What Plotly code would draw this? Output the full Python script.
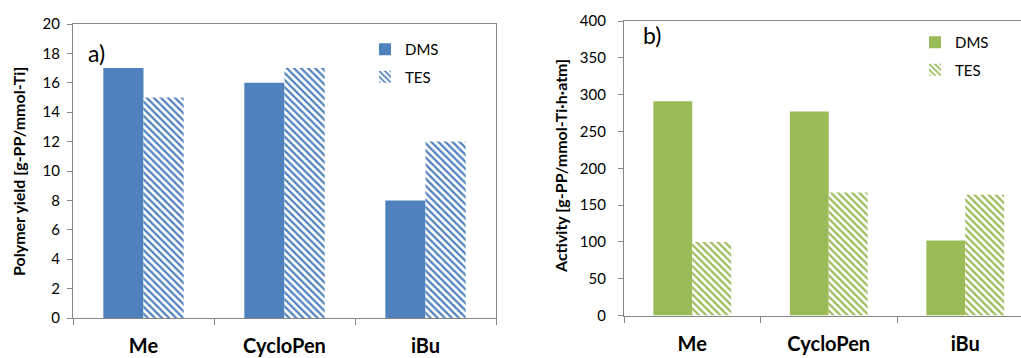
import plotly.graph_objects as go
from plotly.subplots import make_subplots

# Catalyst donors on the x axis
categories = ["Me", "CycloPen", "iBu"]

# a) polymer yield [g-PP/mmol-Ti]
yield_dms = [17, 16, 8]
yield_tes = [15, 17, 12]

# b) activity [g-PP/mmol-Ti·h·atm]
activity_dms = [291, 277, 102]
activity_tes = [100, 167, 164]

series_names = ["DMS", "TES"]
yield_ticks = list(range(0, 21, 2))
activity_ticks = list(range(0, 401, 50))

BLUE = "#4F81BD"
GREEN = "#9BBB59"
AXIS = "#868686"
FONT = "Lato"
W, H = 1021, 358

fig = make_subplots(rows=1, cols=2)


def add_pair(dms, tes, color, col, legend):
    fig.add_trace(go.Bar(
        x=categories, y=dms, name=series_names[0],
        marker=dict(color=color, line=dict(width=0)),
        legend=legend, legendgroup=legend + "a",
    ), row=1, col=col)
    fig.add_trace(go.Bar(
        x=categories, y=tes, name=series_names[1],
        marker=dict(color="white", line=dict(width=0),
                    pattern=dict(shape="\\", fgcolor=color, bgcolor="white",
                                 size=5, solidity=0.45, fillmode="replace")),
        legend=legend, legendgroup=legend + "b",
    ), row=1, col=col)


add_pair(yield_dms, yield_tes, BLUE, 1, "legend")
add_pair(activity_dms, activity_tes, GREEN, 2, "legend2")

tickfont = dict(family=FONT, size=15, color="black")
catfont = dict(family=FONT, size=20, color="black", weight="bold")

common_x = dict(
    type="category", showline=True, linecolor=AXIS, linewidth=1.3,
    ticks="outside", tickson="boundaries", ticklen=6, tickcolor=AXIS,
    tickfont=catfont, ticklabelstandoff=10, showgrid=False, zeroline=False,
    automargin=False,
)
common_y = dict(
    showline=True, linecolor=AXIS, linewidth=1.3, ticks="outside", ticklen=5,
    tickcolor=AXIS, tickfont=tickfont, showgrid=False, zeroline=False,
    automargin=False,
)

fig.update_xaxes(common_x, row=1, col=1)
fig.update_xaxes(common_x, row=1, col=2)
fig.update_yaxes(common_y, row=1, col=1)
fig.update_yaxes(common_y, row=1, col=2)

fig.update_layout(
    xaxis=dict(domain=[73 / W, 496 / W], range=[-0.5, 2.5], mirror=True),
    yaxis=dict(domain=[1 - 318 / H, 1 - 24 / H], range=[0, 20],
               tickvals=yield_ticks, mirror=True, ticklabelstandoff=4),
    xaxis2=dict(domain=[624 / W, 1], range=[-0.5, -0.5 + 397 / 136.5], mirror=True),
    yaxis2=dict(domain=[1 - 315.5 / H, 1 - 21 / H], range=[0, 400],
                tickvals=activity_ticks, mirror=False, ticklabelstandoff=9),
)

fig.update_layout(
    width=W, height=H, margin=dict(l=0, r=0, t=0, b=0, autoexpand=False),
    paper_bgcolor="white", plot_bgcolor="white",
    bargap=0.43, bargroupgap=0, barmode="group",
    font=dict(family=FONT, color="black"),
    legend=dict(x=365 / W, y=1 - 33 / H, xanchor="left", yanchor="top",
                font=dict(family=FONT, size=15), bgcolor="rgba(0,0,0,0)",
                tracegroupgap=5, traceorder="grouped"),
    legend2=dict(x=915 / W, y=1 - 26 / H, xanchor="left", yanchor="top",
                 font=dict(family=FONT, size=15), bgcolor="rgba(0,0,0,0)",
                 tracegroupgap=5, traceorder="grouped"),
    showlegend=True,
)

# Axis titles and panel labels
annotations = [
    dict(text="Polymer yield [g-PP/mmol-Ti]", x=18 / W, y=1 - 172 / H,
         textangle=-90, font=dict(family=FONT, size=16, weight="bold")),
    dict(text="Activity [g-PP/mmol-Ti·h·atm]", x=560 / W, y=1 - 166 / H,
         textangle=-90, font=dict(family=FONT, size=16, weight="bold")),
    dict(text="a)", x=86 / W, y=1 - 53 / H, xanchor="left",
         font=dict(family=FONT, size=23)),
    dict(text="b)", x=641 / W, y=1 - 35 / H, xanchor="left",
         font=dict(family=FONT, size=23)),
]
for a in annotations:
    a.update(xref="paper", yref="paper", showarrow=False)
    if "xanchor" not in a:
        a["xanchor"] = "center"
    a["yanchor"] = "middle"
fig.update_layout(annotations=annotations)

fig.write_html("out.html")
